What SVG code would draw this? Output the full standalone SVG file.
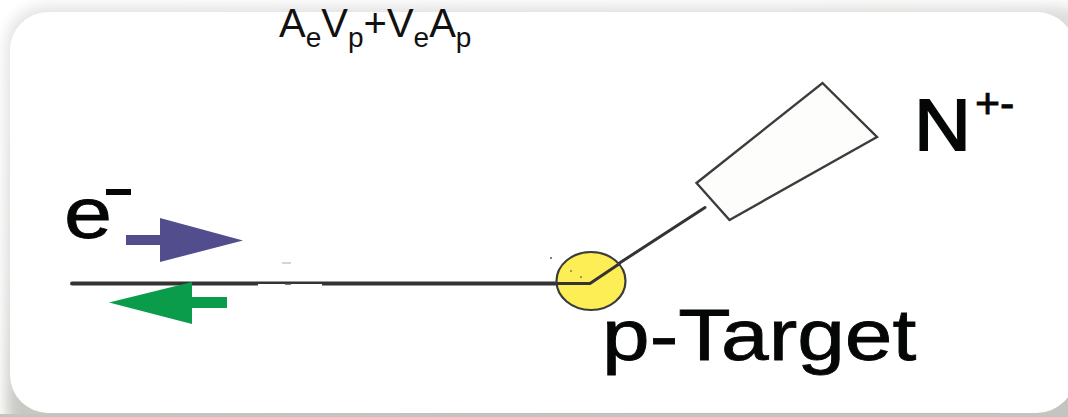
<svg xmlns="http://www.w3.org/2000/svg" width="1068" height="417" viewBox="0 0 1068 417">
<style>
.sans{font-family:"Liberation Sans",Arial,sans-serif;fill:#050707;stroke:#050707}
.cal{font-family:"Liberation Sans",Arial,sans-serif;fill:#111;font-size:40px}
.sub{font-size:28px}
.ln{stroke:#333;fill:none;stroke-linecap:round}
</style>
<defs>
<linearGradient id="sh" x1="0" y1="0" x2="0.35" y2="1">
<stop offset="0" stop-color="#e4e4e4"/><stop offset="0.55" stop-color="#d8d8d6"/><stop offset="1" stop-color="#bdbdb8"/>
</linearGradient>
<filter id="bl" x="-5%" y="-15%" width="110%" height="130%"><feGaussianBlur stdDeviation="7"/></filter>
<clipPath id="pg"><rect width="1068" height="417"/></clipPath>
</defs>
<rect id="page" width="1068" height="417" fill="#fff"/>
<g id="card" clip-path="url(#pg)">
<rect x="6" y="6" width="1090" height="440" rx="40" fill="url(#sh)" filter="url(#bl)"/>
<rect x="1000" y="380" width="80" height="50" fill="#c4c4c0"/>
<rect x="0" y="414" width="1068" height="3" fill="#c4c4c0"/>
<rect x="10" y="12" width="1065" height="401" rx="38" fill="#fff"/>
</g>
<g id="connectors">
<path class="ln" d="M72 283.500H590" stroke-width="3.800"/>
<path class="ln" d="M588 283.500L705 207.500" stroke-width="3"/>
<rect x="258" y="284" width="64" height="4" fill="#fff"/>
<path d="M282 263h9" stroke="#b8b4d2" stroke-width="1.200"/>
<path d="M285 284h6" stroke="#2f5a45" stroke-width="1.500"/>
</g>
<g id="arrow-forward"><path d="M126 235H160V218L243 240.500 160 262V245H126Z" fill="#524e8e"/></g>
<g id="arrow-back"><path d="M109 302.500L192 282V297H227V308H192V324Z" fill="#0a9c4a"/></g>
<g id="target">
<ellipse cx="591" cy="281" rx="34.500" ry="29" fill="#fdee55" stroke="#3c3c3c" stroke-width="2.200"/>
<path class="ln" d="M558 283.500H590L619 264" stroke-width="3"/>
<circle cx="551" cy="258" r="1" fill="#555"/><circle cx="571" cy="271" r="1" fill="#777"/><circle cx="581" cy="277" r="1" fill="#777"/>
<text class="sans" transform="translate(602 360) scale(1.19 1)" font-size="72" stroke-width="0.800">p-Target</text>
</g>
<g id="detector">
<path d="M696.500 183L822.500 83L877 137L729.500 220Z" fill="#fdfdfb" stroke="#3c3c3c" stroke-width="2.400"/>
<text class="sans" transform="translate(914 150) scale(1.08 1)" font-size="73" stroke-width="1.800">N</text>
<text class="sans" x="975" y="118" font-size="43" stroke-width="0.800">+-</text>
</g>
<g id="electron">
<text class="sans" transform="translate(64 238) scale(1.2 1)" font-size="72" stroke-width="0.800">e</text>
<rect x="106" y="189" width="25" height="6" fill="#050707"/>
</g>
<text class="cal" x="279" y="37">A<tspan class="sub" dy="10">e</tspan><tspan dy="-10">V</tspan><tspan class="sub" dy="10">p</tspan><tspan dy="-10">+V</tspan><tspan class="sub" dy="10">e</tspan><tspan dy="-10">A</tspan><tspan class="sub" dy="10">p</tspan></text>
</svg>
